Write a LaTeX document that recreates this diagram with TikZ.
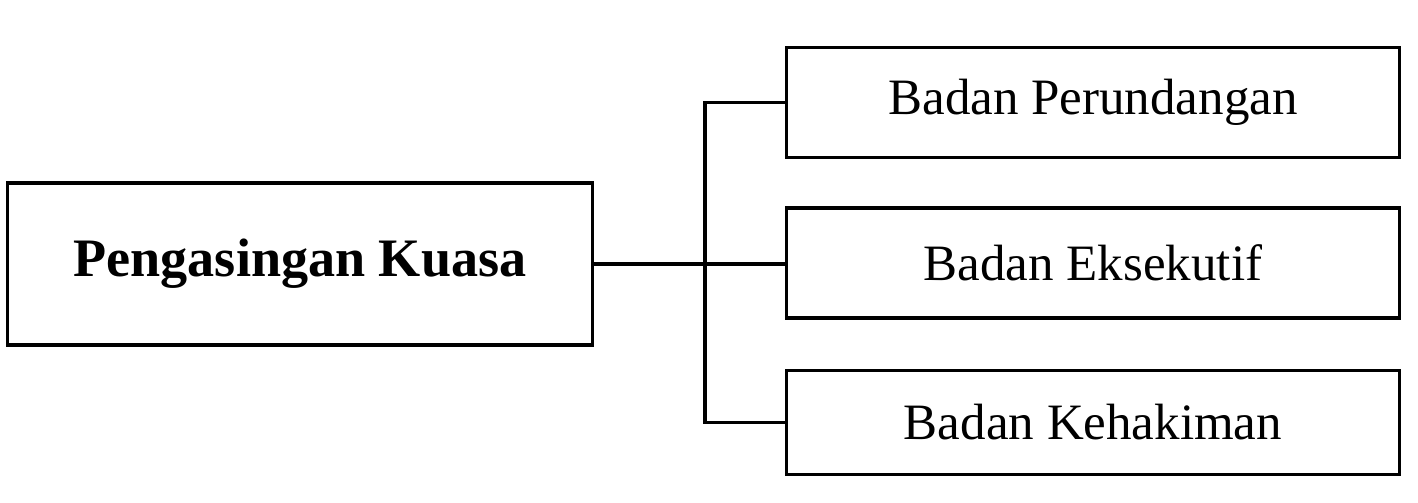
\documentclass[tikz,border=0pt]{standalone}
\usepackage{fontspec}
\setmainfont{Liberation Serif}
\usetikzlibrary{positioning}

\begin{document}
\begin{tikzpicture}[
  x=0.01cm, y=-0.01cm,
  font=\fontsize{14.5}{17}\selectfont,
  box/.style={draw, line width=0.9pt, inner sep=0pt, minimum width=6.13cm, minimum height=1.10cm},
  mainbox/.style={draw, line width=0.9pt, inner sep=0pt, minimum width=5.84cm, minimum height=1.62cm, font=\fontsize{15.4}{18}\selectfont\bfseries},
  link/.style={line width=0.9pt}
]
\useasboundingbox (0,0) rectangle (1418,502);

% Left box
\node[mainbox] (kuasa) at (300,264) {Pengasingan Kuasa};

% Branches (right column)
\node[box] (eksekutif) at (1093,263) {Badan Eksekutif};
\node[box, above=0.47cm of eksekutif] (perundangan) {Badan Perundangan};
\node[box, below=0.49cm of eksekutif, minimum height=1.04cm] (kehakiman) {Badan Kehakiman};

% Connectors
\coordinate (bus) at (705,265);
\draw[link] (kuasa.east) -- (kuasa.east -| eksekutif.west);
\draw[link] (perundangan.west) -| (bus) |- (kehakiman.west);

\end{tikzpicture}
\end{document}
